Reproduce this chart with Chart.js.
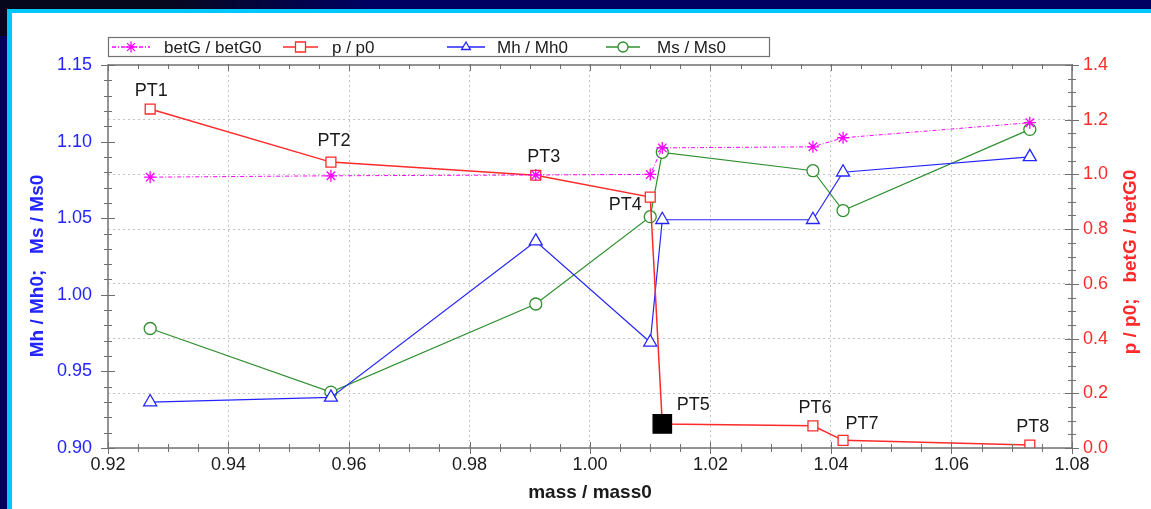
<!DOCTYPE html>
<html>
<head>
<meta charset="utf-8">
<script src="https://cdn.jsdelivr.net/npm/chart.js@4/dist/chart.umd.min.js"></script>
<style>
  html, body { margin: 0; padding: 0; width: 1151px; height: 509px; overflow: hidden; background: #00005a; }
  #shade { position: absolute; left: 0; top: 0; width: 1151px; height: 9px;
           background: linear-gradient(100deg, #07071c 0%, #07071c 14%, #000062 32%, #000062 100%); }
  #shade2 { position: absolute; left: 0; top: 0; width: 7px; height: 36px; background: #07071c; }
  #panel { position: absolute; left: 7px; top: 9px; width: 1200px; height: 560px; background: #fff;
           border-left: 5px solid #00c8ff; border-top: 4px solid #00c8ff; }
  #wrap { position: absolute; left: 12px; top: 13px; width: 1139px; height: 496px; }
</style>
</head>
<body>
<div id="shade"></div>
<div id="shade2"></div>
<div id="panel"></div>
<div id="wrap"><canvas id="chart" width="1139" height="496"></canvas></div>
<script>
// points PT1..PT8
const ptNames = ['PT1', 'PT2', 'PT3', 'PT4', 'PT5', 'PT6', 'PT7', 'PT8'];
const mass   = [0.927, 0.957, 0.991, 1.010, 1.012, 1.037, 1.042, 1.073];
// right axis (p / p0; betG / betG0)
const betG   = [0.990, 0.995, 0.998, 1.000, 1.097, 1.101, 1.134, 1.189];
const pRatio = [1.239, 1.045, 0.997, 0.917, 0.088, 0.081, 0.028, 0.011];
// left axis (Mh / Mh0; Ms / Ms0)
const mhRatio = [0.930, 0.933, 1.035, 0.969, 1.049, 1.049, 1.080, 1.090];
const msRatio = [0.978, 0.9365, 0.994, 1.051, 1.093, 1.081, 1.055, 1.108];

const highlightPoint = 'PT5';
// where each PT label sits relative to its p / p0 marker
const labelOffsets = [[1, -18], [3, -21], [8, -18], [-25, 8], [31, -19], [2, -18], [19, -16], [3, -18]];

const FONT = '"Liberation Sans", Arial, sans-serif';
const TICK = '#707070';
const GRID = '#c4c4c4';

const RED = '#ff2a2a', BLUE = '#2424ff', GREEN = '#2f8f2f', MAGENTA = '#ff00ff';

function onStep(v, step) {
    const r = v / step;
    return Math.abs(r - Math.round(r)) < 1e-6;
}

function pts(ys) {
    return mass.map((m, i) => ({ x: m, y: ys[i] }));
}

// small marker drawing for the legend
function marker(ctx, style, x, y, r, color) {
    ctx.save();
    ctx.strokeStyle = color;
    ctx.fillStyle = '#fff';
    ctx.lineWidth = 1.3;
    ctx.setLineDash([]);
    ctx.beginPath();
    if (style === 'star') {
        for (let k = 0; k < 4; k++) {
            const a = k * Math.PI / 4;
            ctx.moveTo(x - Math.cos(a) * r, y - Math.sin(a) * r);
            ctx.lineTo(x + Math.cos(a) * r, y + Math.sin(a) * r);
        }
        ctx.stroke();
    } else if (style === 'rect') {
        ctx.rect(x - r, y - r, 2 * r, 2 * r);
        ctx.fill(); ctx.stroke();
    } else if (style === 'triangle') {
        ctx.moveTo(x, y - r);
        ctx.lineTo(x + r * 0.87, y + r * 0.5);
        ctx.lineTo(x - r * 0.87, y + r * 0.5);
        ctx.closePath();
        ctx.fill(); ctx.stroke();
    } else {
        ctx.arc(x, y, r, 0, Math.PI * 2);
        ctx.fill(); ctx.stroke();
    }
    ctx.restore();
}

const decorations = {
    id: 'decorations',
    afterDatasetsDraw(chart) {
        const { ctx } = chart;
        const meta = chart.getDatasetMeta(1); // p / p0
        ctx.save();
        ctx.fillStyle = '#1a1a1a';
        ctx.font = '18px ' + FONT;
        ctx.textAlign = 'center';
        ctx.textBaseline = 'middle';
        meta.data.forEach((el, i) => {
            const off = labelOffsets[i];
            ctx.fillText(ptNames[i], el.x + off[0], el.y + off[1]);
        });
        ctx.restore();
    },
    afterDraw(chart) {
        const { ctx, chartArea: a, scales } = chart;
        ctx.save();

        // tick marks crossing the frame
        ctx.strokeStyle = TICK;
        ctx.lineWidth = 1;
        ctx.beginPath();
        scales.x.ticks.forEach(t => {
            const px = Math.round(scales.x.getPixelForValue(t.value)) + 0.5;
            const len = onStep(t.value, 0.02) ? 6 : 4;
            ctx.moveTo(px, a.bottom - len); ctx.lineTo(px, a.bottom + len);
            ctx.moveTo(px, a.top - 1); ctx.lineTo(px, a.top + len);
        });
        scales.y.ticks.forEach(t => {
            const py = Math.round(scales.y.getPixelForValue(t.value)) + 0.5;
            const len = onStep(t.value, 0.05) ? 7 : 4;
            ctx.moveTo(a.left - len, py); ctx.lineTo(a.left + len, py);
        });
        scales.y1.ticks.forEach(t => {
            const py = Math.round(scales.y1.getPixelForValue(t.value)) + 0.5;
            const len = onStep(t.value, 0.2) ? 7 : 4;
            ctx.moveTo(a.right - len, py); ctx.lineTo(a.right + len, py);
        });
        ctx.stroke();

        ctx.lineWidth = 1.5;
        ctx.strokeRect(a.left, a.top, a.right - a.left, a.bottom - a.top);

        // vertical axis titles, both reading bottom to top
        ctx.font = 'bold 19px ' + FONT;
        ctx.textAlign = 'center';
        ctx.textBaseline = 'middle';
        ctx.save();
        ctx.translate(26, 253);
        ctx.rotate(-Math.PI / 2);
        ctx.fillStyle = BLUE;
        ctx.fillText('Mh / Mh0;   Ms / Ms0', 0, 0);
        ctx.restore();
        ctx.save();
        ctx.translate(1119, 249);
        ctx.rotate(-Math.PI / 2);
        ctx.fillStyle = RED;
        ctx.fillText('p / p0;   betG / betG0', 0, 0);
        ctx.restore();

        // legend box
        const lx = a.left, ly = a.top - 28;
        ctx.fillStyle = '#fff';
        ctx.fillRect(lx, ly, 661, 19);
        ctx.strokeStyle = '#707070';
        ctx.lineWidth = 1.2;
        ctx.strokeRect(lx + 0.5, ly + 0.5, 661, 19);

        const items = [
            { text: 'betG / betG0', color: MAGENTA, style: 'star', dash: [4, 2, 1, 2], x0: 4, x1: 42, tx: 56 },
            { text: 'p / p0', color: RED, style: 'rect', dash: [], x0: 175, x1: 210, tx: 224 },
            { text: 'Mh / Mh0', color: BLUE, style: 'triangle', dash: [], x0: 339, x1: 377, tx: 389 },
            { text: 'Ms / Ms0', color: GREEN, style: 'circle', dash: [], x0: 498, x1: 532, tx: 549 }
        ];
        const cy = ly + 10;
        items.forEach(it => {
            ctx.save();
            ctx.strokeStyle = it.color;
            ctx.lineWidth = 1.3;
            ctx.setLineDash(it.dash);
            ctx.beginPath();
            ctx.moveTo(lx + it.x0, cy); ctx.lineTo(lx + it.x1, cy);
            ctx.stroke();
            ctx.restore();
            marker(ctx, it.style, lx + (it.x0 + it.x1) / 2, cy, it.style === 'star' ? 5.5 : 5, it.color);
            ctx.fillStyle = '#1a1a1a';
            ctx.font = '17px ' + FONT;
            ctx.textAlign = 'left';
            ctx.fillText(it.text, lx + it.tx, cy + 1);
        });

        ctx.restore();
    }
};

new Chart(document.getElementById('chart'), {
    type: 'line',
    data: {
        datasets: [
            {
                label: 'betG / betG0',
                data: pts(betG),
                yAxisID: 'y1',
                borderColor: MAGENTA,
                backgroundColor: MAGENTA,
                borderWidth: 1,
                borderDash: [4, 2, 1, 2],
                pointStyle: 'star',
                pointRadius: 6,
                pointBorderWidth: 1.3,
                pointBorderColor: MAGENTA
            },
            {
                label: 'p / p0',
                data: pts(pRatio),
                yAxisID: 'y1',
                borderColor: RED,
                borderWidth: 1.5,
                pointStyle: 'rect',
                pointRadius: ctx => ptNames[ctx.dataIndex] === highlightPoint ? 13 : 7,
                pointBorderWidth: 1.3,
                pointBorderColor: ctx => ptNames[ctx.dataIndex] === highlightPoint ? '#000' : RED,
                pointBackgroundColor: ctx => ptNames[ctx.dataIndex] === highlightPoint ? '#000' : '#fff'
            },
            {
                label: 'Mh / Mh0',
                data: pts(mhRatio),
                yAxisID: 'y',
                borderColor: BLUE,
                borderWidth: 1.2,
                pointStyle: 'triangle',
                pointRadius: 7.5,
                pointBorderWidth: 1.3,
                pointBorderColor: BLUE,
                pointBackgroundColor: '#fff'
            },
            {
                label: 'Ms / Ms0',
                data: pts(msRatio),
                yAxisID: 'y',
                borderColor: GREEN,
                borderWidth: 1.2,
                pointStyle: 'circle',
                pointRadius: 6,
                pointBorderWidth: 1.3,
                pointBorderColor: GREEN,
                pointBackgroundColor: '#fff'
            }
        ]
    },
    options: {
        responsive: false,
        animation: false,
        devicePixelRatio: 1,
        layout: { padding: { top: 52, left: 0, right: 0, bottom: 0 } },
        plugins: {
            legend: { display: false },
            tooltip: { enabled: false }
        },
        scales: {
            x: {
                type: 'linear',
                min: 0.92,
                max: 1.08,
                afterFit: s => { s.height = 61; },
                ticks: {
                    stepSize: 0.005,
                    autoSkip: false,
                    maxRotation: 0,
                    padding: 6,
                    color: '#1a1a1a',
                    font: { size: 18, family: FONT },
                    callback: v => onStep(v, 0.02) ? v.toFixed(2) : ''
                },
                grid: {
                    drawTicks: false,
                    color: ctx => (ctx.tick && onStep(ctx.tick.value, 0.02) && ctx.index > 0 && ctx.tick.value < 1.079) ? GRID : 'transparent'
                },
                border: { display: false, dash: [2, 3] },
                title: {
                    display: true,
                    text: 'mass / mass0',
                    color: '#1a1a1a',
                    font: { size: 19, weight: 'bold', family: FONT },
                    padding: { top: 0, bottom: 5 }
                }
            },
            y: {
                position: 'left',
                min: 0.9,
                max: 1.15,
                afterFit: s => { s.width = 96; },
                ticks: {
                    stepSize: 0.01,
                    autoSkip: false,
                    padding: 16,
                    color: BLUE,
                    font: { size: 18, family: FONT },
                    callback: v => onStep(v, 0.05) ? v.toFixed(2) : ''
                },
                grid: { drawOnChartArea: false, drawTicks: false },
                border: { display: false }
            },
            y1: {
                position: 'right',
                min: 0,
                max: 1.4,
                afterFit: s => { s.width = 79; },
                ticks: {
                    stepSize: 0.05,
                    autoSkip: false,
                    padding: 11,
                    color: RED,
                    font: { size: 18, family: FONT },
                    callback: v => onStep(v, 0.2) ? v.toFixed(1) : ''
                },
                grid: {
                    drawTicks: false,
                    color: ctx => (ctx.tick && onStep(ctx.tick.value, 0.2) && ctx.tick.value > 0.01 && ctx.tick.value < 1.39) ? GRID : 'transparent'
                },
                border: { display: false, dash: [2, 3] }
            }
        }
    },
    plugins: [decorations]
});
</script>
</body>
</html>
